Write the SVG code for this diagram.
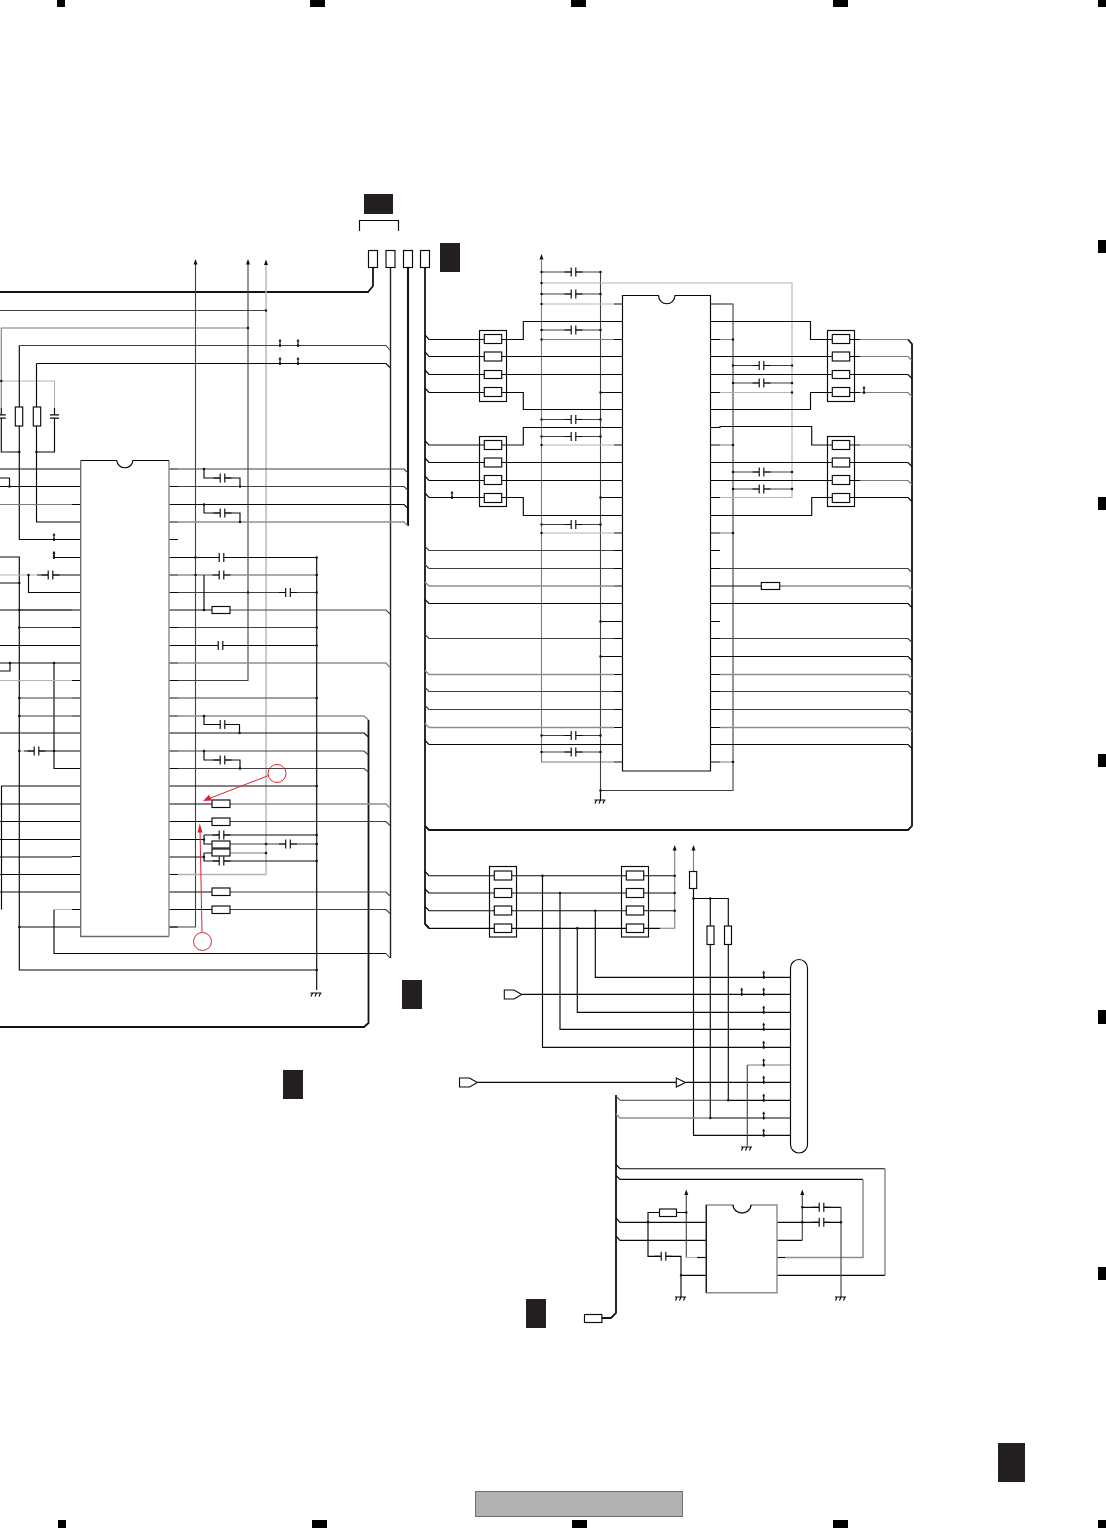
<svg xmlns="http://www.w3.org/2000/svg" width="1106" height="1529" viewBox="0 0 1106 1529">
<style>
.w{fill:none;stroke-linejoin:miter}
.k{stroke:#0a0a0a;stroke-width:1.15}
.d{stroke:#404040;stroke-width:1.1}
.m{stroke:#7c7c7c;stroke-width:1.1}
.l{stroke:#b4b4b4;stroke-width:1.1}
.t{stroke:#8e8e8e;stroke-width:1.5}
.b{stroke:#141414;stroke-width:1.8}
.dot{fill:none;stroke:#111;stroke-width:2.5;stroke-linecap:round}
.r{fill:#fff;stroke:#0a0a0a;stroke-width:1.15}
.f{fill:none;stroke:#0a0a0a;stroke-width:1.15}
.blk{fill:#231f20}
.sq{fill:#000}
.red{fill:none;stroke:#e2232e;stroke-width:1}
.redf{fill:#e2232e}
.p{fill:#fff;stroke:#0a0a0a;stroke-width:1.1}
</style>
<defs>
<g id="c"><rect x="-2.3" y="-4.5" width="4.6" height="9" fill="#fff"/><path class="w k" d="M-2.3-4.5V4.5M2.3-4.5V4.5M-9 0H-2.3M2.3 0H9"/></g>
<g id="cv"><rect x="-4.5" y="-1.6" width="9" height="3.2" fill="#fff"/><path class="w k" d="M-4.5-1.6H4.5M-4.5 1.6H4.5"/></g>
<g id="up"><path class="w k" d="M0 1.5V-4.5"/><path fill="#111" d="M-1.5-4L0-6.8L1.5-4Z"/><circle r="1.2" fill="#111"/></g>
<path id="ah" fill="#111" d="M-2-0.5L0-6L2-0.5Z"/>
<g id="gnd"><path class="w k" d="M-5.5 0H5.5M-3.5 0L-5 3.5M0.5 0L-1 3.5M4.5 0L3 3.5"/></g>
</defs>
<rect width="1106" height="1529" fill="#fff"/>

<g id="page-marks">
<rect class="sq" x="57" y="0" width="8" height="7"/><rect class="sq" x="310" y="0" width="15" height="7"/><rect class="sq" x="571" y="0" width="15" height="7"/><rect class="sq" x="833" y="0" width="15" height="7"/><rect class="sq" x="1098" y="0" width="8" height="7"/>
<rect class="sq" x="58" y="1520" width="8" height="8"/><rect class="sq" x="312" y="1520" width="15" height="8"/><rect class="sq" x="572" y="1520" width="15" height="8"/><rect class="sq" x="833" y="1520" width="15" height="8"/><rect class="sq" x="1098" y="1520" width="8" height="8"/>
<rect class="sq" x="1098" y="240" width="8" height="13"/><rect class="sq" x="1098" y="497" width="8" height="13"/><rect class="sq" x="1098" y="754" width="8" height="13"/><rect class="sq" x="1098" y="1010" width="8" height="14"/><rect class="sq" x="1098" y="1267" width="8" height="13"/>
<rect class="blk" x="364" y="194" width="29" height="20"/><rect class="blk" x="440" y="243" width="20" height="29"/><rect class="blk" x="402" y="980" width="20" height="29"/><rect class="blk" x="283" y="1070" width="20" height="29"/><rect class="blk" x="526" y="1299" width="20" height="29"/><rect class="blk" x="998" y="1443" width="27" height="39"/>
<rect x="475.5" y="1491.5" width="207" height="25" fill="#b1b1b1" stroke="#6e6e6e" stroke-width="1"/>
<path class="w k" d="M359.5 231V220.5H398.5V231"/>
</g>

<g id="connectors">
<path class="w b" d="M373 267V286L368 292H0"/>
<path class="w d" style="stroke:#222;stroke-width:1.4" d="M390.5 267V958"/>
<path class="w b" style="stroke-width:2.1" d="M408 267V526"/>
<path class="w b" d="M425 267V826L429 830H908L912 826V344L908 339.5"/>
<path class="w b" d="M425 826V924L429 928"/>
<path class="w b" d="M368.5 720V1023L364 1027H0"/>
<path class="w b" d="M616 1095V1313L611 1318H602"/>
<path class="w d" d="M195.5 262V927H169M248 262V680.5H169"/>
<path class="w l" style="stroke-width:1.4" d="M266 262V874.5H178"/>
<path class="w d" d="M0 310.5H266"/>
<path class="w m" d="M1.3 408V328H248"/>
<path class="w l" d="M1.3 381H54.5V408"/>
<path class="w d" d="M19.3 345.5H386L390 350"/>
<path class="w k" d="M36.5 363.5H386L390 367.5"/>
<path class="w k" d="M19.3 345.5V539.5H80.7M36.5 363.5V522H80.7M1.3 408V452H19.3M54.5 408V452H36.5"/>
<path class="w k" d="M0 469H80.7M0 486.5H80.7M0 478H9.5V486.5M72 504.5H80.7M54 552V557.5H80.7M0 557H19.3V970H316.7M37 575H80.7M28.5 575V592.5H80.7M0 583H19.3M0 645.5H80.7M0 610H80.7M72 627.5H80.7M0 663H80.7M10 663V671H0M72 680.5H80.7M72 698H80.7M72 716H80.7M0 733H80.7M24 751H80.7M54 663V768.5H80.7M1.5 909.5V786H80.7M0 804H80.7M0 821.5H80.7M0 839.5H80.7M0 857H72M72 856.5H80.7M0 874.5H80.7M0 892H80.7M72 909.5H80.7M54 909.5V953.5H386M19.3 927H80.7"/>
<path class="w m" d="M0 504.5H72"/>
<path class="w l" d="M0 575H37M0 680.5H72M19.3 751H24M54 909.5H72"/>
<path class="w d" d="M19.3 610H72M19.3 627.5H72M19.3 698H72M19.3 716H72M386 953.5L390 958"/>
<path class="w k" d="M169 469H178M169 486.5H178M169 504.5H404L408 508.5M169 522H178M169 539.5H178M169 557.5H316.7M169 575H178M169 592.5H178M169 610H212M169 627.5H178M169 645.5H316.7M169 663H178M169 680.5H178M169 698H178M169 716H178M169 733H364L368.5 737M169 751H178M169 768.5H178M169 786H316.7M169 804H212M169 821.5H212M169 839.5H204M169 857H204M169 874.5H178M169 892H212M169 909.5H212M169 927H178"/>
<path class="w d" d="M178 469H404L408 473M178 486.5H404L408 490.5M178 592.5H316.7M178 627.5H316.7M230 610H386L390 614M178 698H316.7M178 751H364L368.5 755M178 768.5H364L368.5 772M230 821.5H386L390 825.5M230 892H386L390 896M230 909.5H386L390 913.5"/>
<path class="w t" d="M178 522H404L408 526M178 575H316.7M178 663H386L390 667.5M178 716H364L368.5 720M230 804H386L390 808"/>
<path class="w k" d="M204 469V478H240V486.5M204 504.5V513H240V522M204 575V610M204 716V724.5H239.5V733M204 751V760H240V768.5M204 835V844H212M204 835H316.7M204 853H212M204 853V861H316.7M316.7 557.5V990"/>
<path class="w d" d="M230 844H316.7"/>
<path class="w m" d="M230 853H266"/>
<path class="w m" d="M541.5 260V762H614"/>
<path class="w d" d="M600.5 272V790.5H733V304H720"/>
<path class="w k" d="M614 762H622.5M600.5 790.5V800"/>
<path class="w l" d="M541.5 283H792V497.5H720"/>
<path class="w d" d="M541.5 272H600.5M541.5 294H600.5M541.5 330H600.5M541.5 419.5H600.5M541.5 436.5H600.5M541.5 524.5H600.5M541.5 735.5H600.5M541.5 752H600.5"/>
<path class="w l" d="M541.5 304H614M541.5 445H614M541.5 533H614"/>
<path class="w m" d="M541.5 339.5H614"/>
<path class="w k" d="M614 304H622.5M614 339.5H622.5M614 445H622.5M614 533H622.5M600.5 392.5H622.5M600.5 497.5H622.5M600.5 621.5H622.5M600.5 656.5H622.5"/>
<path class="w k" d="M425 335L429 339.5H484M501.7 339.5H523.3V321.5H622.5M425 352L429 356.5H622.5M425 370L429 374.5H622.5M425 388L429 392.5H484M501.7 392.5H523.3V409.5H622.5M425 441L429 445H484M501.7 445H523.3V427.5H622.5M425 458L429 462.5H622.5M425 476L429 480.5H622.5M425 493L429 497.5H484M501.7 497.5H523.3V515.5H622.5"/>
<path class="w k" d="M614 550.5H622.5M614 568.5H622.5M614 586H622.5M425 599.5L429 603.5H622.5M614 638.5H622.5M614 674.5H622.5M614 691.5H622.5M614 709.5H622.5M614 727.5H622.5M425 740.5L429 744.5H622.5"/>
<path class="w d" d="M425 546.5L429 550.5H614M425 564.5L429 568.5H614M425 634.5L429 638.5H614M425 687.5L429 691.5H614M425 705.5L429 709.5H614"/>
<path class="w t" d="M425 582L429 586H614M425 670.5L429 674.5H614M425 723.5L429 727.5H614"/>
<path class="w k" d="M627 564.5H640M627 582.3H646M627 599.3H646M627 617.3H640"/>
<path class="w k" d="M710.5 304H720M710.5 321.5H810.5V339.5H832M710.5 339.5H720M710.5 356.5H832M710.5 374.5H832M710.5 392.5H720M710.5 409.5H810.5V392.5H832M710.5 427.5H720V426.5H811.7V445H832M710.5 445H720M710.5 462.5H832M710.5 480.5H832M710.5 497.5H720M710.5 515.5H811.7V497.5H832M710.5 533H720M710.5 550.5H720M710.5 621.5H720M710.5 568.5H720M710.5 586H761M710.5 603.5H908L912 607.5M710.5 638.5H720M710.5 656.5H908L912 660.5M710.5 674.5H720M710.5 691.5H720M710.5 709.5H720M710.5 727.5H720M710.5 744.5H908L912 748.5M710.5 762H720"/>
<path class="w m" d="M720 339.5H733M720 445H733M720 533H733M720 304H733M720 762H733"/>
<path class="w l" d="M720 392.5H792"/>
<path class="w d" d="M733 365.5H792M733 383H792M733 472H792M733 489H792"/>
<path class="w k" d="M849.7 339.5H860M849.7 356.5H860M849.7 374.5H908L912 378.5M849.7 392.5H860M849.7 445H860M849.7 462.5H908L912 466.5M849.7 480.5H860M849.7 497.5H908L912 501.5"/>
<path class="w m" d="M860 339.5H908M860 356.5H908L912 360.5M860 392.5H908L912 396.5M860 445H908L912 449M860 480.5H908L912 484.5"/>
<path class="w d" d="M720 568.5H908L912 572.5M720 638.5H908L912 642.5M720 691.5H908L912 695.5M720 709.5H908L912 713.5"/>
<path class="w t" d="M779.5 586H908L912 590M720 674.5H908L912 678.5M720 727.5H908L912 731.5"/>
<path class="w k" d="M425 871.5L429 875.7H674.7M429 893H674.7M425 889L429 893M425 906.5L429 910.7H674.7M425 924L429 928.3H660"/>
<path class="w m" d="M660 928.3H674.7V848"/>
<path class="w m" d="M693.5 848V871"/>
<path class="w k" d="M693.5 888V1135.3H790M693.5 898.5H728.3V1100.3M710.3 898.5V1118H790M542.5 875.7V1047.3H790M560 893V1029.3H790M577.3 928.3V1012.3H790M595.3 910.7V977.3H790M522 994.3H790M477.3 1082.3H676M685.5 1082.3H790M728.3 1100.3H790"/>
<path class="w d" d="M616 1096L620 1100.3H728.3"/>
<path class="w t" d="M616 1114L620 1118H710.3"/>
<path class="w m" d="M747.3 1065H790"/>
<path class="w d" d="M747.3 1065V1146"/>
<path class="w k" d="M616 1164.5L620 1168.7H885M616 1175.5L620 1179.3H863M777 1275.3H885M616 1218L620 1222.3H706.3M616 1236L620 1240.3H706.3M648 1222.3V1212.5H660M648 1222.3V1256.3H681V1297M681 1275.3H706.3M676.7 1212.5H686.3M777 1222.3H841M777 1240.3H802.3M802 1207.3H841"/>
<path class="w t" d="M885 1168.7V1275.3M863 1179.3V1257.5H785"/>
<path class="w k" d="M777 1257.5H785"/>
<path class="w d" d="M686.3 1193V1257.5"/>
<path class="w l" d="M686.3 1257.5H697"/>
<path class="w k" d="M697 1257.5H706.3"/>
<path class="w d" d="M802.3 1193V1240.3M841 1207.3V1297"/>
<path class="dot" d="M1.3 381h0M19.3 452h0M36.5 452h0M28.5 575h0M19.3 583h0M19.3 610h0M19.3 627.5h0M19.3 698h0M19.3 716h0M19.3 751h0M54 663h0M54 751h0M10 663h0M9.5 486.5h0M19.3 927h0M204 469h0M240 486.5h0M204 504.5h0M240 522h0M195.5 557.5h0M195.5 575h0M204 610h0M316.7 557.5h0M316.7 575h0M248 592.5h0M316.7 592.5h0M316.7 627.5h0M316.7 645.5h0M316.7 698h0M204 716h0M239.5 733h0M204 751h0M240 768.5h0M316.7 786h0M204 839.5h0M204 857h0M316.7 835h0M266 844h0M316.7 844h0M266 853h0M316.7 861h0M266 310.5h0M248 328h0M316.7 970h0M541.5 272h0M600.5 272h0M541.5 283h0M541.5 294h0M600.5 294h0M541.5 304h0M541.5 330h0M600.5 330h0M541.5 339.5h0M600.5 392.5h0M541.5 419.5h0M600.5 419.5h0M541.5 436.5h0M600.5 436.5h0M541.5 445h0M600.5 497.5h0M541.5 524.5h0M600.5 524.5h0M541.5 533h0M600.5 621.5h0M600.5 656.5h0M541.5 735.5h0M600.5 735.5h0M541.5 752h0M600.5 752h0M600.5 790.5h0M733 339.5h0M733 445h0M733 533h0M733 762h0M733 365.5h0M792 365.5h0M733 383h0M792 383h0M792 392.5h0M733 472h0M792 472h0M733 489h0M792 489h0M674.7 875.7h0M674.7 893h0M674.7 910.7h0M542.5 875.7h0M560 893h0M577.3 928.3h0M595.3 910.7h0M693.5 898.5h0M710.3 898.5h0M728.3 1100.3h0M710.3 1118h0M648 1222.3h0M686.3 1212.5h0M681 1275.3h0M802.3 1207.3h0M802.3 1222.3h0M841 1222.3h0"/>
<use href="#ah" x="195.5" y="265"/><use href="#ah" x="248" y="265"/><use href="#ah" x="266" y="265.5"/><use href="#ah" x="541.5" y="260"/><use href="#ah" x="674.7" y="851"/><use href="#ah" x="693.5" y="851"/><use href="#ah" x="686.3" y="1195.5"/><use href="#ah" x="802.3" y="1195.5"/>
<use href="#up" x="280" y="345.5"/><use href="#up" x="298" y="345.5"/><use href="#up" x="280" y="363.5"/><use href="#up" x="298" y="363.5"/><use href="#up" x="54" y="539.5"/><use href="#up" x="54" y="557.5"/><use href="#up" x="452" y="497.5"/><use href="#up" x="864" y="392.5"/>
<use href="#up" x="763.7" y="977.3"/><use href="#up" x="763.7" y="994.3"/><use href="#up" x="741.7" y="994.3"/><use href="#up" x="763.7" y="1012.3"/><use href="#up" x="763.7" y="1029.3"/><use href="#up" x="763.7" y="1047.3"/><use href="#up" x="763.7" y="1065"/><use href="#up" x="763.7" y="1082.3"/><use href="#up" x="763.7" y="1100.3"/><use href="#up" x="763.7" y="1118"/><use href="#up" x="763.7" y="1135.3"/>
</g>

<g id="capacitors">
<use href="#cv" x="1.3" y="416.5"/><use href="#cv" x="54.5" y="416.5"/>
<use href="#c" x="222.5" y="478"/><use href="#c" x="222.5" y="513"/><use href="#c" x="50.5" y="575"/><use href="#c" x="221.5" y="557.5"/><use href="#c" x="221.5" y="575"/><use href="#c" x="288" y="592.5"/><use href="#c" x="220.5" y="645.5"/><use href="#c" x="222.5" y="724.5"/><use href="#c" x="36.5" y="751"/><use href="#c" x="222.5" y="760"/><use href="#c" x="221.5" y="835"/><use href="#c" x="288" y="844"/><use href="#c" x="221.5" y="861"/>
<use href="#c" x="573.5" y="272"/><use href="#c" x="573.5" y="294"/><use href="#c" x="573.5" y="330"/><use href="#c" x="573.5" y="419.5"/><use href="#c" x="573.5" y="436.5"/><use href="#c" x="573.5" y="524.5"/><use href="#c" x="573.5" y="735.5"/><use href="#c" x="573.5" y="752"/>
<use href="#c" x="761.5" y="365.5"/><use href="#c" x="761.5" y="383"/><use href="#c" x="761.5" y="472"/><use href="#c" x="761.5" y="489"/>
<use href="#c" x="663.5" y="1256.3"/><use href="#c" x="821.5" y="1207.3"/><use href="#c" x="821.5" y="1222.3"/>
</g>

<g id="grounds">
<use href="#gnd" x="316" y="993"/><use href="#gnd" x="600" y="800"/><use href="#gnd" x="746.5" y="1147"/><use href="#gnd" x="680.5" y="1297"/><use href="#gnd" x="840.5" y="1297"/>
</g>

<g id="connector-pins">
<rect class="r" x="368.5" y="250.5" width="9" height="17"/><rect class="r" x="386" y="250.5" width="9" height="17"/><rect class="r" x="403.5" y="250.5" width="9" height="17"/><rect class="r" x="420.5" y="250.5" width="9" height="17"/>
</g>

<g id="ic1"><path fill="#fff" d="M80.7 936.5V460.5H116.7A8.2 8.2 0 0 0 133 460.5H169V936.5Z"/><path class="w m" style="stroke:#6a6a6a;stroke-width:1.3" d="M80.7 460.5V936.5H169"/><path class="w t" d="M169 460.5V936.5"/><path class="w k" d="M80.7 460.5H116.7A8.2 8.2 0 0 0 133 460.5H169"/></g>
<g id="ic2"><path class="k" fill="#fff" d="M622.5 771V295.5H658.5A8.2 8.2 0 0 0 675 295.5H710.5V771Z"/></g>
<g id="ic3"><path class="t" fill="#fff" d="M706.3 1292.7V1205H733A9 8 0 0 0 751 1205H777V1292.7Z"/><path class="w k" d="M706.3 1205V1292.7M733 1205A9 8 0 0 0 751 1205"/></g>

<g id="resistors-ic1">
<rect class="r" x="15.3" y="407" width="7.4" height="19"/><rect class="r" x="33.3" y="407" width="7.4" height="19"/>
<rect class="r" x="212" y="606.5" width="18" height="7"/><rect class="r" x="212" y="800" width="18" height="7.5"/><rect class="r" x="212" y="818" width="18" height="7.5"/><rect class="r" x="212" y="841" width="18" height="7"/><rect class="r" x="212" y="849" width="18" height="7"/><rect class="r" x="212" y="888" width="18" height="7.5"/><rect class="r" x="212" y="906" width="18" height="7.5"/>
</g>
<g id="rn1"><rect class="f" x="479.5" y="330.5" width="27" height="71"/><rect class="r" x="484.3" y="334.5" width="17.4" height="9"/><rect class="r" x="484.3" y="352" width="17.4" height="9"/><rect class="r" x="484.3" y="370.5" width="17.4" height="8"/><rect class="r" x="484.3" y="387.5" width="17.4" height="9"/></g>
<g id="rn2"><rect class="f" x="479.5" y="436.5" width="27" height="70"/><rect class="r" x="484.3" y="440.5" width="17.4" height="9"/><rect class="r" x="484.3" y="458" width="17.4" height="9"/><rect class="r" x="484.3" y="475.5" width="17.4" height="9"/><rect class="r" x="484.3" y="493.5" width="17.4" height="9"/></g>
<g id="rn3"><rect class="f" x="827.5" y="330.5" width="27" height="71"/><rect class="r" x="832.3" y="334.5" width="17.4" height="9"/><rect class="r" x="832.3" y="352" width="17.4" height="9"/><rect class="r" x="832.3" y="370.5" width="17.4" height="8"/><rect class="r" x="832.3" y="387.5" width="17.4" height="9"/></g>
<g id="rn4"><rect class="f" x="827.5" y="436.5" width="27" height="70"/><rect class="r" x="832.3" y="440.5" width="17.4" height="9"/><rect class="r" x="832.3" y="458" width="17.4" height="9"/><rect class="r" x="832.3" y="475.5" width="17.4" height="9"/><rect class="r" x="832.3" y="493.5" width="17.4" height="9"/></g>
<g id="r-ic2"><rect class="r" x="761.3" y="582.5" width="18.4" height="7"/></g>
<g id="rn5"><rect class="f" x="489.5" y="866.5" width="27" height="70.5"/><rect class="r" x="494.3" y="871" width="17.4" height="9"/><rect class="r" x="494.3" y="888.5" width="17.4" height="9"/><rect class="r" x="494.3" y="906" width="17.4" height="9"/><rect class="r" x="494.3" y="924" width="17.4" height="8.5"/></g>
<g id="rn6"><rect class="f" x="621.5" y="866.5" width="27" height="70.5"/><rect class="r" x="626.3" y="871" width="17.4" height="9"/><rect class="r" x="626.3" y="888.5" width="17.4" height="9"/><rect class="r" x="626.3" y="906" width="17.4" height="9"/><rect class="r" x="626.3" y="924" width="17.4" height="8.5"/></g>
<g id="r-lower"><rect class="r" x="689.5" y="871.5" width="7.2" height="17"/><rect class="r" x="707" y="926" width="7" height="18.5"/><rect class="r" x="724.5" y="926" width="7" height="18.5"/><rect class="r" x="659.5" y="1209" width="17" height="7.5"/><rect class="r" x="584.5" y="1314.5" width="17.4" height="8"/></g>

<g id="cn-pill"><rect class="r" x="790.5" y="959.5" width="17" height="193.5" rx="8.5" ry="8.5"/></g>
<g id="tag1"><path class="p" d="M504.3 990H514L521.7 994.5L514 999H504.3Z"/></g>
<g id="tag2"><path class="p" d="M459.5 1078H469.5L477.3 1082.5L469.5 1087H459.5Z"/></g>
<g id="buf"><path class="p" d="M676.3 1078L685.5 1082.5L676.3 1087Z"/></g>

<g id="callouts">
<circle class="red" cx="277" cy="773.5" r="9"/><circle class="red" cx="202.5" cy="941.5" r="9"/>
<path class="red" d="M268.5 775.5L208 799"/><path class="redf" d="M203 801L209 794.7L212 800.5Z"/>
<path class="red" d="M202 932L200 830"/><path class="redf" d="M199.7 823.5L202.5 832.5H197.5Z"/>
</g>
</svg>
